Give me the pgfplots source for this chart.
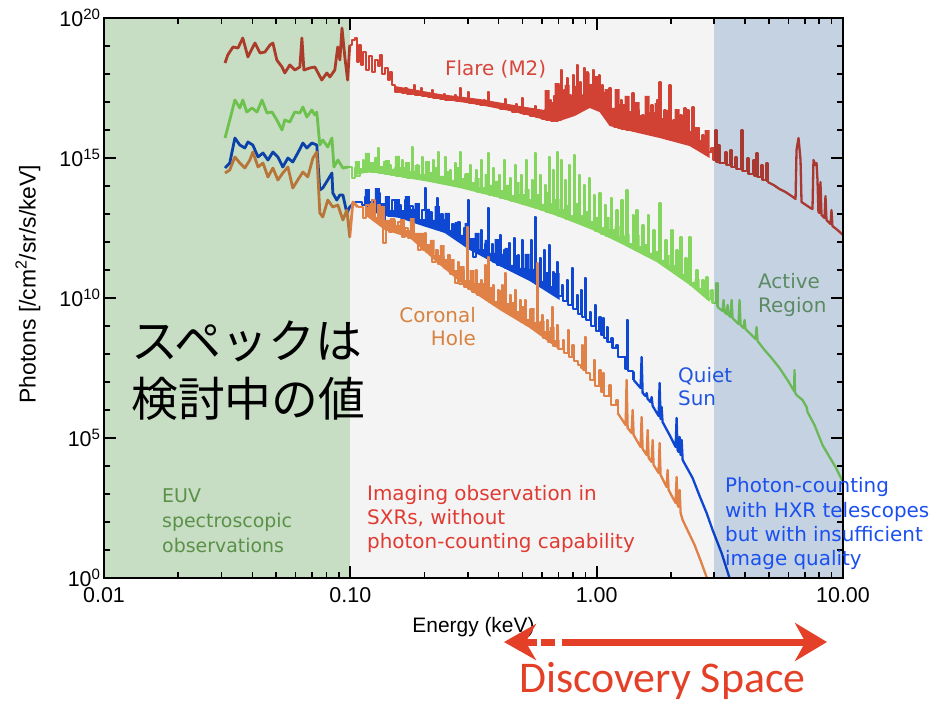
\documentclass[border=0pt]{standalone}
\usepackage{pgfplots}
\pgfplotsset{compat=1.18}
\usetikzlibrary{arrows.meta}
\usepackage{fontspec}
\setmainfont{Liberation Sans}
\newfontfamily\annot{DejaVu Sans}
\newfontfamily\cjk{Noto Sans CJK JP}
\newfontfamily\calib{Carlito}

% band backgrounds
\definecolor{euvbg}{HTML}{C7DDC4}
\definecolor{sxrbg}{HTML}{F4F4F4}
\definecolor{hxrbg}{HTML}{C4D2E2}
% spectra
\definecolor{flarec}{HTML}{DC4637}
\definecolor{actreg}{HTML}{8BE063}
\definecolor{quiet}{HTML}{0F4BDC}
\definecolor{chole}{HTML}{EB874B}
% labels
\definecolor{flaretxt}{HTML}{D8453A}
\definecolor{artxt}{HTML}{5B8A62}
\definecolor{qstxt}{HTML}{1F55E0}
\definecolor{chtxt}{HTML}{D98240}
\definecolor{euvtxt}{HTML}{5A9048}
\definecolor{sxrtxt}{HTML}{E03A32}
\definecolor{hxrtxt}{HTML}{1A4FF0}
\definecolor{disc}{HTML}{E44028}

\pgfplotsset{
  euvpart/.style={line width=2.8bp, line join=round},
  linepart/.style={const plot, line width=2.3bp, line join=round},
  tailpart/.style={line width=2.3bp, line join=round},
  % blended lines: stepped upper envelope, closed along the continuum
  blendfill/.style={const plot, draw=none, fill=#1},
}

\begin{document}
\begin{tikzpicture}
\path[use as bounding box] (0,0) rectangle (933bp,-702bp);
\clip (0,0) rectangle (933bp,-702bp);
\begin{axis}[
  at={(104bp,-578bp)}, anchor=south west,
  scale only axis, width=739bp, height=560bp,
  xmode=log, ymode=log,
  xmin=0.01, xmax=10, ymin=1, ymax=1e20,
  xtick={0.01,0.1,1,10},
  xticklabels={0.01,0.10,1.00,10.00},
  minor xtick={0.02,0.03,0.04,0.05,0.06,0.07,0.08,0.09,0.2,0.3,0.4,0.5,0.6,0.7,0.8,0.9,2,3,4,5,6,7,8,9},
  ytick={1,1e5,1e10,1e15,1e20},
  yticklabels={10\textsuperscript{0},10\textsuperscript{5},10\textsuperscript{10},10\textsuperscript{15},10\textsuperscript{20}},
  minor ytick={1e1,1e2,1e3,1e4,1e6,1e7,1e8,1e9,1e11,1e12,1e13,1e14,1e16,1e17,1e18,1e19},
  tick pos=both, tick align=inside,
  major tick length=12bp, minor tick length=6bp,
  major tick style={line width=2bp, black},
  minor tick style={line width=1.5bp, black},
  axis line style={line width=2bp, black},
  ticklabel style={font=\fontsize{21.5}{24}\selectfont},
  xticklabel style={yshift=-6bp},
  xlabel={Energy (keV)},
  ylabel={Photons [/cm\textsuperscript{2}/sr/s/keV]},
  xlabel style={at={(axis description cs:0.5,-0.0875)}, anchor=center, font=\fontsize{21}{24}\selectfont},
  ylabel style={at={(axis description cs:-0.103,0.525)}, anchor=center, font=\fontsize{23}{26}\selectfont},
  axis on top,
]
% ================= M2 flare =================
\addplot[draw=none, fill=flarec] coordinates {
(0.1515,3.73e17) (0.2307,1.93e17) (0.3352,1.28e17) (0.4871,7.20e16) (0.6153,5.18e16)
(0.6153,2.28e16) (0.4871,4.05e16) (0.3352,7.81e16) (0.2307,1.28e17) (0.1515,2.28e17)
} -- cycle;
\addplot[blendfill=flarec] coordinates {
(0.6153,2.68e17) (0.6447,1.00e17) (0.6755,4.77e17) (0.7078,1.51e17) (0.7416,4.05e17) (0.7771,1.39e17) (0.8142,3.73e17) (0.8532,1.78e17) (0.8940,1.09e18) (0.9367,4.39e17) (0.9815,8.48e17) (1.028,2.28e17) (1.078,2.91e17) (1.129,6.11e16) (1.183,2.91e17) (1.240,8.48e16) (1.299,1.64e17) (1.361,4.77e16) (1.426,1.00e17) (1.494,3.43e16) (1.566,1.64e17) (1.641,4.39e16) (1.719,9.21e16) (1.801,2.68e16) (1.887,5.18e16) (1.978,1.64e16) (2.072,5.62e16) (2.172,1.78e16) (2.275,2.91e16) (2.384,9.21e15) (2.498,1.28e16) (2.618,4.39e15) (2.743,1.00e16) (2.874,3.43e15)
} -- (axis cs:2.874,1.00e15) -- (axis cs:2.384,2.68e15) -- (axis cs:1.801,5.18e15) -- (axis cs:1.361,9.21e15) -- (axis cs:1.129,1.39e16) -- (axis cs:1.028,4.39e16) -- (axis cs:0.9367,6.11e16) -- (axis cs:0.8142,3.16e16) -- (axis cs:0.7078,2.10e16) -- (axis cs:0.6153,2.28e16) -- cycle;
\addplot[flarec, euvpart] coordinates {
(0.0310,2.47e18) (0.0318,4.77e18) (0.0334,9.21e18) (0.0350,8.48e18) (0.0366,1.93e19) (0.0384,4.05e18) (0.0410,1.28e19) (0.0430,5.62e18) (0.0450,6.11e18) (0.0472,1.09e19) (0.0485,1.28e19) (0.0503,3.16e18) (0.0528,1.78e18) (0.0542,1.09e18) (0.0568,2.10e18) (0.0595,1.39e18) (0.0624,1.78e18) (0.0636,1.93e19) (0.0648,1.39e18) (0.0685,1.64e18) (0.0718,1.78e18) (0.0766,6.11e17) (0.0803,1.09e18) (0.0826,7.81e17) (0.0865,1.39e18) (0.0889,9.21e18) (0.0907,3.16e18) (0.0925,4.39e19) (0.0950,4.05e18) (0.0975,6.11e17) (0.0995,1.09e19)
};
\addplot[flarec, linepart] coordinates {
(0.0995,1.09e19) (0.1014,1.64e19) (0.1043,1.93e19) (0.1064,2.68e18) (0.1083,1.09e19) (0.1104,2.10e18) (0.1124,6.11e18) (0.1156,1.39e18) (0.1189,4.39e18) (0.1222,1.18e18) (0.1257,3.16e18) (0.1293,1.93e18) (0.1317,4.77e18) (0.1342,1.00e18) (0.1380,1.64e18) (0.1419,6.11e17) (0.1446,1.18e18) (0.1474,4.05e17) (0.1515,2.28e17) (0.1573,2.68e17) (0.1619,2.10e17) (0.1664,3.16e17) (0.1696,1.93e17) (0.1776,2.10e17) (0.1809,4.05e17) (0.1826,1.78e17) (0.1896,1.78e17) (0.1932,3.16e17) (0.1950,1.64e17) (0.2068,1.51e17) (0.2141,2.68e17) (0.2162,1.39e17) (0.2307,1.28e17) (0.2395,1.93e17) (0.2417,1.18e17) (0.2581,1.18e17) (0.2654,1.78e17) (0.2679,1.09e17) (0.2781,3.16e17) (0.2807,1.09e17) (0.2941,1.00e17) (0.2996,2.28e17) (0.3025,9.21e16) (0.3229,8.48e16) (0.3352,7.81e16) (0.3480,1.18e17) (0.3512,7.81e16) (0.3612,2.28e17) (0.3646,7.20e16) (0.3856,6.63e16) (0.4041,5.62e16) (0.4234,1.28e17) (0.4274,5.62e16) (0.4521,4.39e16) (0.4693,8.48e16) (0.4737,4.39e16) (0.4871,4.05e16) (0.4963,1.39e17) (0.5010,3.73e16) (0.5348,3.16e16) (0.5604,7.20e16) (0.5657,2.91e16) (0.5983,2.47e16) (0.6153,5.18e16) (0.6211,2.28e16) (0.6447,1.18e17) (0.6508,2.10e16) (0.6692,1.64e17) (0.6755,2.10e16) (0.6946,4.05e17) (0.7012,2.28e16) (0.7144,1.39e18) (0.7211,2.68e16) (0.7348,2.68e17) (0.7416,3.16e16) (0.7557,7.20e17) (0.7628,4.39e16) (0.7771,1.78e17) (0.7844,3.73e16) (0.7993,9.21e17) (0.8068,5.18e16) (0.8219,3.16e17) (0.8297,2.10e18) (0.8375,7.81e16) (0.8532,5.18e17) (0.8613,8.48e16) (0.8776,1.78e17) (0.8858,1.64e18) (0.8940,1.00e17) (0.9110,1.18e18) (0.9196,1.18e17) (0.9367,3.73e17) (0.9455,8.48e16) (0.9634,1.39e18) (0.9725,1.18e17) (0.9908,7.20e17) (1.0001,7.81e16) (1.019,9.21e17) (1.028,5.18e16) (1.048,4.05e17) (1.058,4.39e16) (1.088,1.78e17) (1.098,2.68e16) (1.129,3.16e17) (1.140,1.51e16) (1.172,5.18e16) (1.183,1.28e16) (1.205,1.51e17) (1.217,1.18e16) (1.252,1.18e17) (1.263,1.09e16) (1.311,4.39e16) (1.323,1.00e16) (1.399,2.10e17) (1.412,9.21e15) (1.466,5.18e16) (1.480,8.48e15) (1.537,3.43e16) (1.551,7.81e15) (1.596,4.05e16) (1.611,7.20e15) (1.672,7.81e16) (1.688,6.63e15) (1.754,1.18e17) (1.771,6.11e15) (1.801,5.18e17) (1.818,5.62e15) (1.887,5.18e16) (1.905,5.18e15) (1.978,4.05e17) (1.996,4.77e15) (2.052,2.28e16) (2.072,4.39e15) (2.111,1.78e16) (2.131,4.05e15) (2.192,3.43e16) (2.213,3.73e15) (2.275,6.11e16) (2.297,3.43e15) (2.340,5.18e16) (2.362,3.16e15) (2.451,6.63e16) (2.474,2.68e15) (2.570,1.18e16) (2.594,2.28e15) (2.692,6.63e15) (2.718,1.93e15) (2.797,4.39e15) (2.823,1.64e15) (2.927,2.28e15) (2.983,8.48e14) (3.040,1.00e16) (3.069,7.20e14) (3.127,2.91e15) (3.155,6.63e14) (3.337,1.64e15) (3.369,5.62e14) (3.497,1.93e15) (3.530,4.77e14) (3.664,1.09e15) (3.698,4.05e14) (3.874,1.00e16) (3.911,3.43e14) (4.098,1.00e15) (4.137,2.68e14) (4.332,8.48e14) (4.375,2.28e14) (4.458,1.51e15) (4.499,2.10e14) (4.671,5.62e14) (4.716,1.64e14) (4.898,6.63e14) (4.944,1.39e14)
};
\addplot[flarec, tailpart] coordinates {
(4.944,1.39e14) (5.224,1.09e14) (5.526,7.81e13) (5.845,6.11e13) (6.182,4.39e13) (6.418,3.43e13) (6.477,1.93e15) (6.600,5.18e15) (6.724,8.48e14) (6.787,2.68e13) (7.18,1.93e13) (7.38,1.64e13) (7.52,1.51e13) (7.59,8.48e14) (7.735,5.62e14) (7.81,6.63e14) (7.88,1.64e14) (7.95,1.18e13) (8.03,1.09e13) (8.10,1.39e14) (8.18,9.21e12) (8.41,7.20e12) (8.49,4.39e13) (8.57,6.11e12) (8.90,4.39e12) (8.98,1.39e13) (9.06,3.73e12) (9.50,2.68e12) (10.0,1.78e12)
};
% ================= active region =================
\addplot[blendfill=actreg] coordinates {
(0.1043,7.81e14) (0.1093,4.39e14) (0.1145,1.51e15) (0.1200,7.20e14) (0.1257,1.09e15) (0.1317,5.18e14) (0.1380,8.48e14) (0.1446,4.05e14) (0.1515,1.18e15) (0.1588,4.77e14) (0.1664,7.20e14) (0.1743,3.43e14) (0.1826,5.62e14) (0.1914,2.68e14) (0.2005,7.81e14) (0.2101,3.16e14) (0.2201,4.77e14) (0.2307,2.28e14) (0.2417,3.43e14) (0.2533,1.64e14) (0.2654,4.77e14) (0.2781,1.93e14) (0.2914,2.91e14) (0.3053,1.39e14) (0.3199,1.93e14) (0.3352,9.21e13) (0.3512,2.68e14) (0.3680,1.09e14) (0.3856,1.51e14) (0.4041,7.20e13) (0.4234,1.09e14) (0.4437,4.77e13) (0.4649,1.39e14) (0.4871,5.18e13) (0.5104,7.81e13) (0.5348,3.43e13) (0.5604,5.18e13) (0.5872,2.28e13) (0.6153,6.11e13) (0.6447,2.47e13) (0.6755,3.43e13) (0.7078,1.51e13) (0.7416,2.10e13) (0.7771,9.21e12) (0.8142,2.47e13) (0.8532,9.21e12) (0.8940,1.28e13) (0.9367,5.62e12) (0.9815,7.81e12) (1.028,3.43e12) (1.078,7.81e12) (1.129,2.91e12) (1.183,3.73e12) (1.240,1.64e12) (1.299,1.93e12) (1.361,9.21e11) (1.426,1.78e12) (1.494,7.20e11) (1.566,8.48e11) (1.641,4.05e11) (1.719,4.77e11) (1.801,2.28e11) (1.887,3.43e11) (1.978,1.51e11) (2.072,1.51e11) (2.172,7.20e10) (2.275,7.20e10) (2.384,3.73e10) (2.498,4.77e10) (2.618,2.28e10) (2.743,1.93e10) (2.874,1.00e10)
} -- (axis cs:2.874,7.20e9) -- (axis cs:2.384,2.91e10) -- (axis cs:1.751,1.93e11) -- (axis cs:1.240,9.21e11) -- (axis cs:0.9634,2.68e12) -- (axis cs:0.7078,7.81e12) -- (axis cs:0.5872,1.39e13) -- (axis cs:0.4041,3.73e13) -- (axis cs:0.2781,8.48e13) -- (axis cs:0.2101,1.39e14) -- (axis cs:0.1588,2.10e14) -- (axis cs:0.1200,3.16e14) -- (axis cs:0.1043,2.47e14) -- cycle;
\addplot[actreg, euvpart] coordinates {
(0.0310,5.18e15) (0.0324,2.28e16) (0.0340,1.18e17) (0.0356,6.11e16) (0.0366,1.18e17) (0.0380,4.39e16) (0.0399,6.11e16) (0.0418,4.39e16) (0.0438,1.18e17) (0.0459,4.05e16) (0.0481,4.39e16) (0.0503,2.28e16) (0.0528,1.00e16) (0.0542,2.28e16) (0.0568,1.93e16) (0.0595,4.39e16) (0.0624,4.05e16) (0.0642,6.63e16) (0.0666,2.91e16) (0.0698,5.18e16) (0.0718,3.43e16) (0.0731,4.39e16) (0.0752,2.91e15) (0.0773,4.39e15) (0.0810,2.47e15) (0.0842,5.18e15) (0.0858,4.77e14) (0.0890,8.48e14) (0.0933,4.39e14) (0.0977,4.77e14)
};
\addplot[actreg, linepart] coordinates {
(0.0977,4.77e14) (0.1014,1.93e14) (0.1043,4.39e14) (0.1053,2.28e14) (0.1093,3.73e14) (0.1124,8.48e14) (0.1135,3.16e14) (0.1178,5.62e14) (0.1200,3.16e14) (0.1257,1.00e15) (0.1269,3.16e14) (0.1293,2.28e15) (0.1305,2.91e14) (0.1367,7.20e14) (0.1380,2.68e14) (0.1446,5.62e14) (0.1460,2.47e14) (0.1515,4.39e14) (0.1529,2.28e14) (0.1618,8.48e14) (0.1633,2.10e14) (0.1680,3.73e14) (0.1696,1.93e14) (0.1776,2.47e15) (0.1792,1.93e14) (0.1861,5.62e14) (0.1879,1.78e14) (0.1950,1.09e15) (0.1968,1.64e14) (0.2062,4.39e14) (0.2081,1.51e14) (0.2161,8.48e14) (0.2181,1.39e14) (0.2264,1.64e15) (0.2285,1.28e14) (0.2417,1.09e15) (0.2440,1.18e14) (0.2533,3.73e14) (0.2557,1.09e14) (0.2654,6.63e14) (0.2679,1.00e14) (0.2781,1.64e15) (0.2807,9.21e13) (0.2914,2.47e14) (0.2941,8.48e13) (0.3053,5.62e14) (0.3082,7.20e13) (0.3229,3.73e14) (0.3259,6.11e13) (0.3384,8.48e14) (0.3415,5.62e13) (0.3612,1.51e15) (0.3646,4.77e13) (0.3785,4.39e14) (0.3820,4.39e13) (0.4003,2.47e14) (0.4041,3.73e13) (0.4195,8.48e14) (0.4234,3.43e13) (0.4437,1.93e14) (0.4479,2.91e13) (0.4649,5.62e14) (0.4693,2.68e13) (0.4917,2.47e14) (0.4963,2.28e13) (0.5152,8.48e14) (0.5200,2.10e13) (0.5449,1.64e14) (0.5500,1.78e13) (0.5604,1.51e15) (0.5657,1.64e13) (0.5872,2.47e14) (0.5927,1.39e13) (0.6153,1.09e14) (0.6211,1.18e13) (0.6387,1.09e15) (0.6447,1.09e13) (0.6630,3.73e14) (0.6692,1.00e13) (0.6883,1.64e15) (0.6947,8.48e12) (0.7144,8.48e14) (0.7211,7.81e12) (0.7416,1.64e14) (0.7486,6.63e12) (0.7699,5.62e14) (0.7771,6.11e12) (0.8066,1.28e15) (0.8142,5.18e12) (0.8453,2.47e14) (0.8532,4.39e12) (0.8857,1.09e14) (0.8940,3.73e12) (0.9280,1.93e14) (0.9367,3.16e12) (0.9724,4.77e13) (0.9815,2.47e12) (1.028,5.62e13) (1.038,1.93e12) (1.078,2.10e13) (1.088,1.64e12) (1.140,3.73e13) (1.151,1.39e12) (1.205,1.39e13) (1.217,1.18e12) (1.263,3.16e13) (1.275,9.21e11) (1.323,7.20e13) (1.335,7.81e11) (1.400,9.21e12) (1.413,6.11e11) (1.453,1.39e13) (1.466,5.18e11) (1.537,4.05e12) (1.551,4.05e11) (1.611,9.21e12) (1.626,3.43e11) (1.703,2.68e12) (1.719,2.47e11) (1.801,2.47e13) (1.818,1.78e11) (1.905,1.18e12) (1.923,1.28e11) (2.015,2.68e12) (2.034,9.21e10) (2.111,5.18e11) (2.131,7.20e10) (2.192,1.51e12) (2.213,5.62e10) (2.296,2.68e11) (2.318,4.05e10) (2.384,1.51e12) (2.406,2.91e10) (2.545,1.00e11) (2.569,1.93e10) (2.692,4.39e10) (2.717,1.28e10) (2.795,5.62e10) (2.821,9.21e9) (2.928,1.93e10) (2.956,6.63e9) (3.068,3.43e10) (3.097,4.77e9)
};
\addplot[actreg, tailpart] coordinates {
(3.097,4.77e9) (3.245,3.43e9) (3.275,8.48e9) (3.306,3.16e9) (3.368,2.68e9) (3.400,5.62e9) (3.432,2.47e9) (3.497,2.10e9) (3.530,8.48e9) (3.563,1.93e9) (3.767,1.18e9) (3.803,8.48e9) (3.839,1.09e9) (3.946,8.48e8) (3.985,1.64e9) (4.022,7.81e8) (4.176,5.62e8) (4.416,3.43e8) (4.458,9.21e8) (4.500,2.91e8) (4.804,1.39e8) (5.128,7.20e7) (5.526,3.16e7) (5.954,1.18e7) (6.330,4.77e6) (6.357,2.68e7) (6.390,4.20e6) (6.477,3.43e6) (6.850,2.28e6) (7.112,1.28e6) (7.179,8.48e5) (7.663,2.91e5) (8.257,5.62e4) (8.815,2.10e4) (9.324,9.21e3) (10.0,2.68e3)
};
% ================= quiet Sun =================
\addplot[blendfill=quiet] coordinates {
(0.1145,7.81e13) (0.1200,2.91e13) (0.1257,8.48e13) (0.1317,2.47e13) (0.1380,4.39e13) (0.1446,1.39e13) (0.1515,3.43e13) (0.1588,1.39e13) (0.1664,4.39e13) (0.1743,1.51e13) (0.1826,2.47e13) (0.1914,6.63e12) (0.2005,1.51e13) (0.2101,6.11e12) (0.2201,1.93e13) (0.2307,6.63e12) (0.2417,1.09e13) (0.2533,2.68e12) (0.2654,5.18e12) (0.2781,1.78e12) (0.2914,4.77e12) (0.3053,1.39e12) (0.3199,2.10e12) (0.3352,5.62e11) (0.3512,1.18e12) (0.3680,4.05e11) (0.3856,1.28e12) (0.4041,3.73e11) (0.4234,6.11e11) (0.4437,1.51e11) (0.4649,3.43e11) (0.4871,1.18e11) (0.5104,3.73e11) (0.5348,1.09e11) (0.5604,1.64e11) (0.5872,4.05e10) (0.6153,8.48e10) (0.6447,2.68e10) (0.6755,7.81e10) (0.7078,2.28e10)
} -- (axis cs:0.7078,8.48e9) -- (axis cs:0.5348,4.05e10) -- (axis cs:0.4041,1.39e11) -- (axis cs:0.3053,5.18e11) -- (axis cs:0.2417,2.10e12) -- (axis cs:0.1914,4.05e12) -- (axis cs:0.1588,7.20e12) -- (axis cs:0.1317,9.21e12) -- (axis cs:0.1145,1.78e13) -- cycle;
\addplot[quiet, euvpart] coordinates {
(0.0310,4.39e14) (0.0324,6.63e14) (0.0340,5.18e15) (0.0356,2.91e15) (0.0373,2.28e15) (0.0384,3.73e15) (0.0402,2.91e15) (0.0422,1.09e15) (0.0442,1.51e15) (0.0463,8.48e14) (0.0485,1.64e15) (0.0508,1.09e15) (0.0532,4.77e14) (0.0558,1.00e15) (0.0584,7.20e14) (0.0612,1.51e15) (0.0642,3.43e15) (0.0666,2.28e15) (0.0698,3.43e15) (0.0731,2.91e15) (0.0752,7.20e13) (0.0773,8.48e13) (0.0810,1.64e14) (0.0842,2.91e14) (0.0849,5.62e13) (0.0881,3.16e13) (0.0907,4.77e13) (0.0933,4.77e13) (0.0968,1.09e13) (0.0995,1.78e13) (0.1043,2.68e13)
};
\addplot[quiet, linepart] coordinates {
(0.1043,2.68e13) (0.1114,2.10e13) (0.1145,4.05e13) (0.1178,1.39e13) (0.1223,3.16e13) (0.1257,1.18e13) (0.1293,5.62e13) (0.1317,9.21e12) (0.1342,5.62e12) (0.1380,2.10e13) (0.1419,8.48e12) (0.1473,3.16e13) (0.1515,1.09e13) (0.1559,2.10e13) (0.1603,7.20e12) (0.1664,3.16e13) (0.1696,8.48e12) (0.1743,1.93e13) (0.1793,5.62e12) (0.1843,1.18e13) (0.1896,4.77e12) (0.1950,1.39e13) (0.2005,8.48e13) (0.2024,4.05e12) (0.2101,1.18e13) (0.2141,4.39e12) (0.2222,1.00e13) (0.2243,3.73e13) (0.2264,3.16e12) (0.2329,1.00e13) (0.2372,2.68e12) (0.2463,7.20e12) (0.2509,2.10e12) (0.2581,4.39e12) (0.2629,1.64e12) (0.2729,5.18e12) (0.2781,1.18e12) (0.2887,3.16e12) (0.2941,8.48e11) (0.2996,3.16e13) (0.3025,6.63e11) (0.3140,2.91e11) (0.3229,1.39e12) (0.3290,4.39e11) (0.3383,2.68e12) (0.3415,3.43e11) (0.3512,8.48e11) (0.3545,2.91e11) (0.3612,1.64e13) (0.3646,2.47e11) (0.3750,8.48e11) (0.3785,1.93e11) (0.3892,5.18e11) (0.3929,1.51e11) (0.4041,1.78e12) (0.4079,1.39e11) (0.4195,5.18e11) (0.4234,1.18e11) (0.4396,9.21e11) (0.4437,1.00e11) (0.4606,1.39e12) (0.4649,8.48e10) (0.4781,3.43e11) (0.4826,7.20e10) (0.4963,1.18e12) (0.5010,6.11e10) (0.5200,2.68e11) (0.5249,4.77e10) (0.5398,1.18e12) (0.5449,4.05e10) (0.5604,7.81e12) (0.5657,3.16e10) (0.5872,2.68e11) (0.5927,2.47e10) (0.6096,5.18e11) (0.6153,2.10e10) (0.6387,7.81e11) (0.6447,1.78e10) (0.6630,8.48e10) (0.6692,1.39e10) (0.6883,1.93e11) (0.6947,1.18e10) (0.7211,2.91e10) (0.7279,7.81e9) (0.7557,4.39e10) (0.7628,5.62e9) (0.7918,1.18e11) (0.7993,4.05e9) (0.8296,1.28e10) (0.8374,2.68e9) (0.8612,1.93e10) (0.8693,2.10e9) (0.8940,5.18e10) (0.9024,1.64e9) (0.9367,3.16e9) (0.9455,1.00e9) (0.9815,5.62e9) (0.9907,6.63e8) (1.028,2.10e9) (1.038,4.77e8) (1.058,1.93e9) (1.068,3.73e8) (1.098,9.21e8) (1.108,2.68e8) (1.150,3.73e8) (1.161,1.64e8) (1.205,2.10e8) (1.217,7.81e7) (1.311,2.91e7) (1.324,1.64e9) (1.336,2.47e7) (1.400,2.28e7) (1.413,1.18e7)
};
\addplot[quiet, tailpart] coordinates {
(1.413,1.18e7) (1.508,6.11e6) (1.522,7.81e7) (1.537,4.05e6) (1.580,3.16e6) (1.596,4.05e6) (1.611,2.47e6) (1.656,1.93e6) (1.672,2.91e6) (1.688,1.39e6) (1.785,6.11e5) (1.801,9.21e6) (1.818,4.77e5) (1.835,1.28e6) (1.852,3.73e5) (1.978,1.28e5) (2.092,4.77e4) (2.111,5.18e5) (2.131,3.73e4) (2.151,3.16e4) (2.172,1.09e5) (2.192,2.47e4) (2.213,8.48e4) (2.234,1.64e4) (2.452,3.73e3) (2.618,8.48e2) (2.795,2.10e2) (2.956,5.18e1) (3.215,7.81) (3.464,1.0) (3.6,0.4)
};
% ================= coronal hole =================
\addplot[blendfill=chole] coordinates {
(0.1145,1.78e13) (0.1200,2.47e13) (0.1257,7.81e12) (0.1317,1.93e13) (0.1380,6.11e12) (0.1446,7.20e12) (0.1515,4.05e12) (0.1588,6.63e12) (0.1664,2.68e12) (0.1743,7.20e12) (0.1826,2.10e12) (0.1914,2.10e12) (0.2005,8.48e11) (0.2101,1.18e12) (0.2201,3.43e11) (0.2307,7.81e11) (0.2417,2.47e11) (0.2533,2.47e11) (0.2654,1.00e11) (0.2781,1.39e11) (0.2914,4.39e10) (0.3053,1.00e11) (0.3199,3.43e10) (0.3352,3.43e10) (0.3512,1.64e10) (0.3680,2.47e10) (0.3856,7.81e9) (0.4041,1.93e10) (0.4234,6.63e9) (0.4437,7.20e9) (0.4649,3.43e9) (0.4871,5.18e9) (0.5104,1.78e9) (0.5348,4.39e9) (0.5604,1.39e9) (0.5872,1.51e9) (0.6153,6.63e8) (0.6447,9.21e8) (0.6755,3.16e8) (0.7078,7.20e8)
} -- (axis cs:0.7078,1.39e8) -- (axis cs:0.5348,8.48e8) -- (axis cs:0.4041,3.73e9) -- (axis cs:0.3053,1.93e10) -- (axis cs:0.2307,1.51e11) -- (axis cs:0.1743,1.39e12) -- (axis cs:0.1380,2.68e12) -- (axis cs:0.1145,9.21e12) -- cycle;
\addplot[chole, euvpart] coordinates {
(0.0310,2.91e14) (0.0324,3.73e14) (0.0340,1.09e15) (0.0356,6.63e14) (0.0373,4.39e14) (0.0391,8.48e14) (0.0402,1.64e15) (0.0422,4.77e14) (0.0442,6.63e14) (0.0463,2.10e14) (0.0485,4.39e14) (0.0508,1.64e14) (0.0532,2.91e14) (0.0558,4.77e14) (0.0584,8.48e13) (0.0612,1.64e14) (0.0642,3.16e14) (0.0672,2.10e14) (0.0705,1.00e15) (0.0731,1.64e15) (0.0752,1.09e13) (0.0773,7.81e12) (0.0810,3.16e13) (0.0849,1.78e13) (0.0890,2.10e13) (0.0933,6.11e12) (0.0968,1.39e13) (0.0995,1.51e12) (0.1024,2.68e13) (0.1072,1.78e13)
};
\addplot[chole, linepart] coordinates {
(0.1072,1.78e13) (0.1124,7.20e12) (0.1156,2.10e13) (0.1189,9.21e12) (0.1223,3.16e13) (0.1257,7.20e12) (0.1293,2.10e13) (0.1317,5.18e12) (0.1355,9.21e11) (0.1393,4.05e12) (0.1432,2.28e12) (0.1473,6.11e12) (0.1515,2.68e12) (0.1559,5.18e12) (0.1618,1.51e12) (0.1664,3.16e12) (0.1711,1.39e12) (0.1776,4.77e12) (0.1809,1.18e12) (0.1879,5.18e11) (0.1932,1.39e12) (0.1968,5.18e11) (0.2005,2.10e12) (0.2024,4.39e11) (0.2101,7.81e11) (0.2141,1.93e11) (0.2222,5.18e11) (0.2264,1.64e11) (0.2351,2.91e11) (0.2395,1.18e11) (0.2486,3.43e11) (0.2533,7.20e10) (0.2654,3.43e10) (0.2729,1.93e11) (0.2755,3.16e10) (0.2860,1.00e11) (0.2887,2.47e10) (0.2969,3.43e12) (0.2996,2.10e10) (0.3111,1.64e10) (0.3229,1.00e11) (0.3259,1.28e10) (0.3384,4.39e10) (0.3415,1.09e10) (0.3512,1.51e11) (0.3545,8.48e9) (0.3612,2.91e11) (0.3646,7.20e9) (0.3785,2.91e10) (0.3820,5.62e9) (0.3966,1.93e10) (0.4003,4.39e9) (0.4117,2.91e10) (0.4156,3.73e9) (0.4234,7.81e10) (0.4274,3.16e9) (0.4437,1.28e10) (0.4479,2.47e9) (0.4649,1.93e10) (0.4693,1.93e9) (0.4871,8.48e9) (0.4917,1.39e9) (0.5104,8.48e9) (0.5152,1.09e9) (0.5348,3.73e9) (0.5398,8.48e8) (0.5710,1.78e11) (0.5764,5.62e8) (0.5983,2.47e9) (0.6039,3.73e8) (0.6269,1.64e9) (0.6328,2.68e8) (0.6569,4.77e9) (0.6630,1.93e8) (0.6883,1.09e9) (0.6947,1.51e8) (0.7279,3.16e8) (0.7347,1.09e8) (0.7627,7.20e8) (0.7699,7.81e7) (0.7991,2.10e8) (0.8066,5.62e7) (0.8374,4.05e7) (0.8612,3.16e7) (0.8693,2.10e8) (0.8775,2.68e7) (0.8940,4.05e8) (0.9024,2.10e7) (0.9367,1.18e7) (0.9724,6.11e7) (0.9815,7.20e6) (1.028,2.68e7) (1.038,4.39e6) (1.058,2.10e7) (1.068,3.16e6) (1.129,7.81e6) (1.140,1.51e6) (1.205,2.28e6) (1.217,7.81e5)
};
\addplot[chole, tailpart] coordinates {
(1.217,7.81e5) (1.311,2.91e5) (1.323,1.18e7) (1.336,2.28e5) (1.386,1.51e5) (1.400,1.00e6) (1.413,1.28e5) (1.508,4.77e4) (1.522,5.62e5) (1.537,4.05e4) (1.596,2.47e4) (1.611,1.93e5) (1.626,1.93e4) (1.672,1.39e4) (1.688,8.48e4) (1.703,1.09e4) (1.785,5.62e3) (1.801,6.63e4) (1.818,4.77e3) (1.923,1.78e3) (1.941,7.20e3) (1.960,1.39e3) (2.092,4.77e2) (2.111,4.05e3) (2.131,4.05e2) (2.151,3.43e2) (2.172,1.39e3) (2.192,2.10e2) (2.234,1.18e2) (2.498,1.51e1) (2.618,5.18) (2.795,1.09) (2.9,0.4)
};
% observing bands, tinted over the spectra
\fill[euvbg, blend mode=multiply] (axis cs:0.01,1) rectangle (axis cs:0.1,1e20);
\fill[sxrbg, blend mode=multiply] (axis cs:0.1,1) rectangle (axis cs:3,1e20);
\fill[hxrbg, blend mode=multiply] (axis cs:3,1) rectangle (axis cs:10,1e20);
\end{axis}

% curve names
\begin{scope}[every node/.style={inner sep=0pt, font=\annot\fontsize{20}{24}\selectfont}]
\node[anchor=base west, text=flaretxt] at (445bp,-75bp) {Flare (M2)};
\node[anchor=base west, text=artxt] at (758bp,-288bp) {Active};
\node[anchor=base west, text=artxt] at (758bp,-312bp) {Region};
\node[anchor=base west, text=qstxt] at (678bp,-382bp) {Quiet};
\node[anchor=base west, text=qstxt] at (678bp,-405bp) {Sun};
\node[anchor=base east, text=chtxt] at (476bp,-322bp) {Coronal};
\node[anchor=base east, text=chtxt] at (476bp,-345bp) {Hole};
% band descriptions
\node[anchor=base west, text=euvtxt, font=\annot\fontsize{19}{24}\selectfont] at (162bp,-502bp) {EUV};
\node[anchor=base west, text=euvtxt, font=\annot\fontsize{19}{24}\selectfont] at (162bp,-527bp) {spectroscopic};
\node[anchor=base west, text=euvtxt, font=\annot\fontsize{19}{24}\selectfont] at (162bp,-552bp) {observations};
\node[anchor=base west, text=sxrtxt] at (367bp,-500bp) {Imaging observation in};
\node[anchor=base west, text=sxrtxt] at (367bp,-524bp) {SXRs, without};
\node[anchor=base west, text=sxrtxt] at (367bp,-548bp) {photon-counting capability};
\node[anchor=base west, text=hxrtxt] at (725bp,-492bp) {Photon-counting};
\node[anchor=base west, text=hxrtxt] at (725bp,-517bp) {with HXR telescopes};
\node[anchor=base west, text=hxrtxt] at (725bp,-541bp) {but with insufficient};
\node[anchor=base west, text=hxrtxt] at (725bp,-565bp) {image quality};
\end{scope}

% provisional-values note
\node[anchor=west, inner sep=0pt, font=\cjk\fontsize{47}{47}\selectfont] at (131bp,-341bp) {スペックは};
\node[anchor=west, inner sep=0pt, font=\cjk\fontsize{47}{47}\selectfont] at (131bp,-399bp) {検討中の値};

% discovery space arrow
\draw[disc, line width=7bp, -{Stealth[length=32bp,width=38bp]}] (562bp,-642bp) -- (827bp,-642bp);
\draw[disc, line width=7bp, {Stealth[length=32bp,width=36bp]}-] (504bp,-642bp) -- (537bp,-642bp);
\draw[disc, line width=7bp] (541bp,-642bp) -- (555bp,-642bp);
\node[anchor=base west, inner sep=0pt, text=disc, font=\calib\fontsize{44}{44}\selectfont] at (519bp,-692bp) {Discovery Space};
\end{tikzpicture}
\end{document}
